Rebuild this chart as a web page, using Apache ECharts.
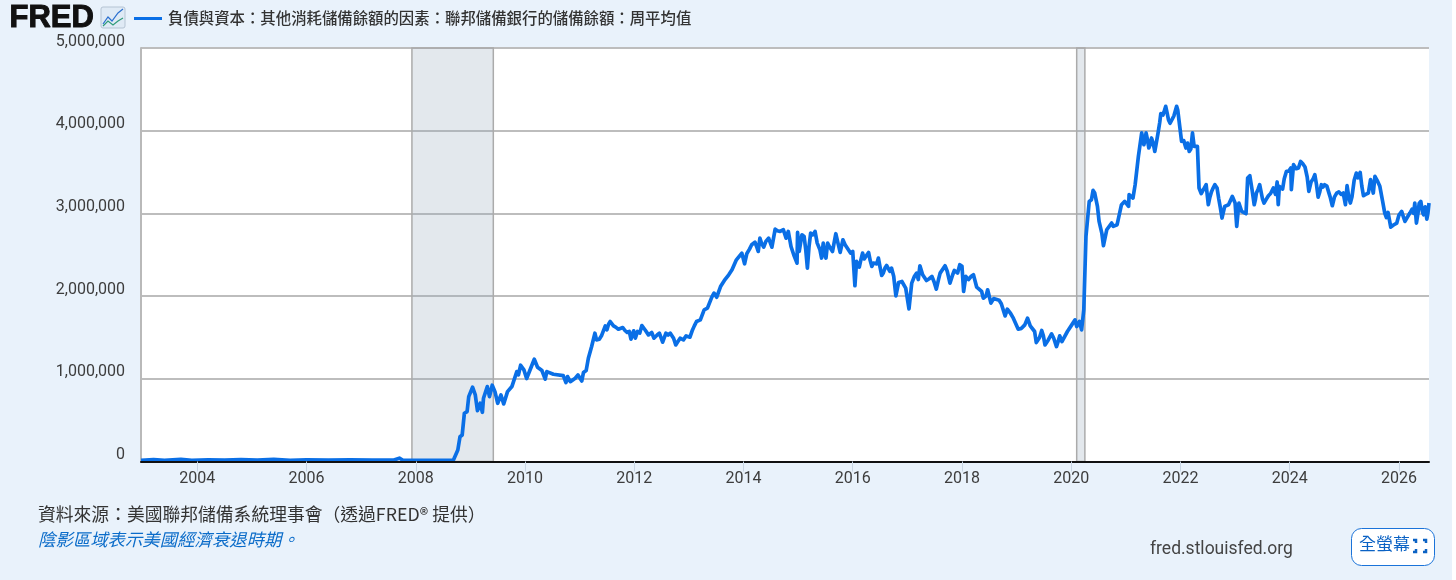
<!DOCTYPE html>
<html><head><meta charset="utf-8">
<style>html,body{margin:0;padding:0;background:#fff}#c{width:1452px;height:580px}</style>
<script src="https://cdn.jsdelivr.net/npm/echarts@6/dist/echarts.min.js"></script>
</head><body><div id="c"></div>
<script>
const seriesName = '負債與資本\uFF1A其他消耗儲備餘額的因素\uFF1A聯邦儲備銀行的儲備餘額\uFF1A周平均值';
const sourceText = '資料來源\uFF1A美國聯邦儲備系統理事會\uFF08透過FRED® 提供\uFF09';
const noteText = '陰影區域表示美國經濟衰退時期。';
const yearTicks = [2004,2006,2008,2010,2012,2014,2016,2018,2020,2022,2024,2026];
const valueTicks = [0,1000000,2000000,3000000,4000000,5000000];
const recessions = [[2007.93,2009.42],[2020.10,2020.25]];
// Decimal years and values in thousands of US$
const t1 = [2002.97,2003.2,2003.4,2003.7,2003.9,2004.2,2004.5,2004.8,2005.1,2005.4,2005.7,2006,2006.4,2006.8,2007.2,2007.6,2007.7,2007.76,2008.2,2008.5,2008.69];
const v1 = [15,22,14,25,13,20,16,24,18,27,14,20,17,19,16,18,40,18,15,14,18];
const t2 = [2008.77,2008.81,2008.85,2008.89,2008.94,2008.97,2009.04,2009.09,2009.13,2009.18,2009.22,2009.24,2009.31,2009.35,2009.40,2009.45,2009.50,2009.56,2009.61,2009.68,2009.76,2009.85,2009.88,2009.92,2009.98,2010.03,2010.17,2010.23,2010.31,2010.37,2010.40,2010.52,2010.70,2010.75,2010.78,2010.83,2010.92,2010.97,2011.04,2011.07,2011.12,2011.16,2011.22,2011.28,2011.31,2011.36,2011.47,2011.50,2011.56,2011.62,2011.71,2011.79,2011.83,2011.91,2011.94,2011.99,2012.02,2012.06,2012.10,2012.14,2012.26,2012.32,2012.36,2012.46,2012.52,2012.58,2012.66,2012.76,2012.84,2012.90,2012.95,2013.02,2013.14];
const v2 = [139,300,321,583,603,785,898,805,615,704,595,765,906,785,922,845,704,805,696,845,906,1087,1047,1164,1108,1003,1237,1140,1100,995,1087,1055,1039,954,1027,966,1007,1047,974,1075,1100,1249,1390,1551,1471,1479,1640,1592,1693,1640,1600,1620,1584,1572,1479,1580,1491,1572,1552,1644,1531,1560,1491,1552,1443,1552,1552,1410,1491,1471,1519,1503,1693];
const t3 = [2013.21,2013.28,2013.34,2013.42,2013.46,2013.51,2013.58,2013.65,2013.73,2013.79,2013.87,2013.97,2014.02,2014.06,2014.15,2014.21,2014.27,2014.30,2014.37,2014.46,2014.52,2014.58,2014.67,2014.73,2014.78,2014.82,2014.87,2014.98,2014.99,2015.02,2015.07,2015.11,2015.17,2015.23,2015.31,2015.35,2015.43,2015.46,2015.51,2015.54,2015.63,2015.69,2015.77,2015.82,2015.89,2015.96,2016.0,2016.04,2016.07,2016.12,2016.18,2016.24,2016.29,2016.35,2016.41,2016.47,2016.53,2016.59,2016.65,2016.71,2016.79,2016.84,2016.90,2016.97,2017.03,2017.08,2017.17,2017.23,2017.28,2017.35,2017.45,2017.53,2017.60,2017.69,2017.78,2017.83,2017.96,2018.03,2018.07,2018.21,2018.27,2018.36,2018.39,2018.47,2018.53,2018.61,2018.72,2018.79,2018.83,2018.94,2019.03,2019.15,2019.20,2019.33,2019.36,2019.46,2019.52,2019.64,2019.73,2019.79];
const v3 = [1713,1834,1854,1987,2036,1987,2116,2189,2258,2318,2439,2520,2391,2512,2621,2653,2540,2701,2592,2701,2592,2810,2782,2802,2701,2782,2600,2398,2770,2540,2741,2721,2339,2762,2782,2641,2460,2641,2460,2641,2540,2754,2528,2681,2641,2520,2540,2125,2419,2350,2520,2439,2528,2359,2379,2460,2250,2339,2379,2339,2003,2165,2177,2096,1846,2157,2278,2367,2258,2189,2238,2084,2278,2367,2157,2258,2379,2056,2238,2258,2108,2056,1975,2076,1915,1955,1907,1761,1842,1733,1600,1652,1733,1572,1438,1584,1410,1543,1390,1519];
const t4 = [2019.83,2019.93,2020.01,2020.07,2020.10,2020.15,2020.19,2020.23,2020.27,2020.33,2020.37,2020.40,2020.43,2020.48,2020.51,2020.56,2020.59,2020.65,2020.74,2020.77,2020.84,2020.92,2020.98,2021.05,2021.06,2021.13,2021.17,2021.23,2021.29,2021.33,2021.37,2021.42,2021.47,2021.53,2021.59,2021.64,2021.68,2021.73,2021.78,2021.84,2021.93,2021.98,2022.02,2022.06,2022.10,2022.16,2022.22,2022.25,2022.31,2022.34,2022.42,2022.47,2022.51,2022.57,2022.63,2022.67,2022.76,2022.81,2022.88,2022.95,2023.0,2023.03,2023.07,2023.12,2023.20,2023.23,2023.27,2023.35,2023.39,2023.45,2023.53,2023.61,2023.70,2023.79,2023.81,2023.87,2023.94,2024.02,2024.03,2024.07,2024.16,2024.20,2024.28,2024.35,2024.46,2024.52,2024.58,2024.64,2024.71,2024.78,2024.86,2024.98,2025.02,2025.05,2025.11,2025.22,2025.29,2025.35,2025.44,2025.48,2025.53,2025.56,2025.65,2025.74,2025.80,2025.85,2025.96,2026.05,2026.11,2026.20,2026.29,2026.32,2026.40,2026.45,2026.51,2026.55];
const v4 = [1450,1572,1652,1713,1632,1693,1592,1834,2722,3145,3165,3278,3246,3085,2903,2762,2609,2802,2883,2843,2863,3105,3145,3085,3226,3185,3347,3690,3973,3831,3973,3791,3912,3750,3973,4206,4190,4295,4134,4073,4295,4235,3872,3880,3791,3750,3973,3811,3811,3307,3287,3347,3105,3266,3347,3307,2944,3085,3105,3206,3125,2843,3125,3024,2996,3428,3456,3105,3246,3347,3125,3214,3307,3105,3327,3294,3508,3549,3287,3589,3549,3629,3561,3266,3468,3197,3347,3347,3307,3093,3246,3246,3105,3335,3125,3488,3496,3214,3246,3408,3246,3448,3327,3004,3012,2834,2883,3024,2903,3004,3125,2883,3145,2984,2931,3125];
// Extra weekly wiggles
const t5 = [2011.40,2011.53,2011.66,2011.87,2012.2,2012.42,2012.62,2012.72,2012.8,2013.06,2013.1,2014.11,2014.24,2014.33,2014.41,2014.49,2014.62,2014.7,2014.92,2015.14,2015.2,2015.27,2015.4,2015.48,2015.58,2015.73,2015.86,2016.15,2016.21,2016.32,2016.38,2016.44,2016.5,2016.56,2016.62,2016.68,2016.75,2017.13,2017.2,2017.4,2017.49,2017.57,2017.73,2017.86,2017.92,2018.0,2018.12,2018.17,2018.44,2018.58,2018.68,2018.89,2019.09,2019.25,2019.42,2019.49,2019.58,2019.68,2019.76];
const v5 = [1520,1660,1625,1560,1590,1530,1530,1490,1450,1580,1640,2568,2600,2641,2661,2689,2790,2760,2500,2560,2600,2740,2560,2520,2590,2640,2620,2440,2450,2430,2400,2390,2350,2280,2370,2300,2240,2240,2200,2210,2170,2200,2300,2310,2280,2360,2200,2240,2000,1970,1950,1790,1610,1640,1500,1520,1470,1490,1450];
const t6 = [2021.35,2021.40,2021.45,2021.50,2021.56,2021.62,2021.70,2021.76,2021.81,2021.88,2021.95,2022.13,2022.19,2022.38,2022.45,2022.54,2022.60,2022.70,2022.73,2023.15,2023.31,2023.37,2023.42,2023.50,2023.57,2023.65,2023.74,2023.77,2023.84,2023.90,2023.98,2024.12,2024.24,2024.32,2024.39,2024.43,2024.49,2024.55,2024.61,2024.68,2024.74,2024.82,2024.90,2024.94,2025.08,2025.14,2025.18,2025.25,2025.32,2025.39,2025.60,2025.70,2025.77,2025.82,2025.90,2026.00,2026.08,2026.15,2026.24,2026.27,2026.35,2026.37,2026.43,2026.48,2026.53];
const v6 = [3880,3880,3840,3850,3860,4100,4230,4200,4090,4180,4250,3850,3780,3240,3300,3200,3310,3180,3070,3040,3290,3160,3290,3180,3170,3240,3230,3380,3310,3420,3510,3540,3600,3440,3380,3420,3350,3260,3320,3330,3200,3200,3260,3230,3200,3200,3400,3430,3330,3230,3400,3150,2950,2990,2860,2980,2960,2950,3050,3000,3010,3120,3020,3080,3000];

const years = [...t1,...t2,...t3,...t4,...t5,...t6];
const values = [...v1,...v2,...v3,...v4,...v5,...v6].map(v=>v*1000);
const pairs = years.map((y,i)=>[y,values[i]]).sort((a,b)=>a[0]-b[0]);

const blue='#0a6fe6', ink='#3d3d3d';
const chart = echarts.init(document.getElementById('c'),null,{renderer:'canvas'});
chart.setOption({
  animation:false,
  backgroundColor:'#e9f2fb',
  textStyle:{fontFamily:'Roboto, "Noto Sans CJK TC", sans-serif'},
  grid:{left:141,right:23,top:48,bottom:118.5,show:true,backgroundColor:'#fff',borderWidth:0,containLabel:false},
  xAxis:{type:'value',min:2002.97,max:2026.55,z:5,
    axisLine:{show:true,lineStyle:{color:'#111',width:2}},
    axisTick:{show:true,length:10,lineStyle:{color:'#c9d6e4',width:1},customValues:yearTicks},
    axisLabel:{color:ink,fontSize:16,margin:9,customValues:yearTicks,formatter:v=>String(Math.round(v)),hideOverlap:false,showMinLabel:true,showMaxLabel:true},
    splitLine:{show:false}},
  yAxis:{type:'value',min:0,max:5000000,
    axisLine:{show:true,lineStyle:{color:'#b9b9b9',width:2}},
    axisTick:{show:false},
    axisLabel:{color:ink,fontSize:16,margin:16,customValues:valueTicks,verticalAlign:'bottom',verticalAlignMinLabel:'bottom',verticalAlignMaxLabel:'bottom',lineHeight:13,formatter:v=>v.toLocaleString('en-US')},
    splitLine:{show:true,lineStyle:{color:'#bdbdbd',width:2}}},
  series:[{type:'line',name:seriesName,data:pairs,showSymbol:false,symbol:'none',smooth:false,
    lineStyle:{color:blue,width:3.7,join:'round'},z:3,
    markArea:{silent:true,z:1,itemStyle:{color:'rgba(148,166,184,0.26)',borderColor:'#ababab',borderWidth:1.5},
      label:{show:false},
      data:recessions.map(r=>[{xAxis:r[0],yAxis:0},{xAxis:r[1],yAxis:5000000}])}}],
  graphic:[
    {type:'text',left:9,top:2,style:{text:'FRED',font:'900 31px "Liberation Sans", sans-serif',fill:'#111',stroke:'#111',lineWidth:1}},
    {type:'rect',shape:{x:101,y:7,width:24,height:21,r:2},style:{fill:'#dfeaf5',stroke:'#b5c4d3',lineWidth:1}},
    {type:'polyline',shape:{points:[[103,24],[108,17],[112,21],[118,13],[123,9]]},style:{stroke:'#2a6fcf',fill:null,lineWidth:1.2}},
    {type:'polyline',shape:{points:[[103,26],[108,21],[113,25],[118,21],[123,18]]},style:{stroke:'#2f9b7a',fill:null,lineWidth:1.2}},
    {type:'line',shape:{x1:134,y1:18.5,x2:162,y2:18.5},style:{stroke:blue,lineWidth:3}},
    {type:'text',left:168,top:10,style:{text:seriesName,font:'500 15.4px "Noto Sans CJK TC", sans-serif',fill:'#333'}},
    {type:'text',left:38,top:505,style:{text:sourceText,font:'17.8px "Noto Sans CJK TC", sans-serif',fill:'#333'}},
    {type:'text',left:38,top:531,style:{text:noteText,font:'italic 17.4px "Noto Sans CJK TC", sans-serif',fill:'#0b6cc9'}},
    {type:'text',left:1150,top:541,style:{text:'fred.stlouisfed.org',font:'17.5px Roboto, sans-serif',fill:'#444'}},
    {type:'rect',shape:{x:1351.5,y:528.5,width:83,height:37,r:10},style:{fill:'#fff',stroke:'#1a73d9',lineWidth:1}},
    {type:'text',left:1359,top:535,style:{text:'全螢幕',font:'17px "Noto Sans CJK TC", sans-serif',fill:'#0b62c4'}},
    {type:'polyline',shape:{points:[[1416,543],[1416,540],[1413,540]]},style:{stroke:'#0b62c4',fill:null,lineWidth:2.5}},
    {type:'polyline',shape:{points:[[1423,540],[1426,540],[1426,543]]},style:{stroke:'#0b62c4',fill:null,lineWidth:2.5}},
    {type:'polyline',shape:{points:[[1416,549],[1416,552],[1413,552]]},style:{stroke:'#0b62c4',fill:null,lineWidth:2.5}},
    {type:'polyline',shape:{points:[[1423,552],[1426,552],[1426,549]]},style:{stroke:'#0b62c4',fill:null,lineWidth:2.5}}
  ]
});
</script></body></html>
